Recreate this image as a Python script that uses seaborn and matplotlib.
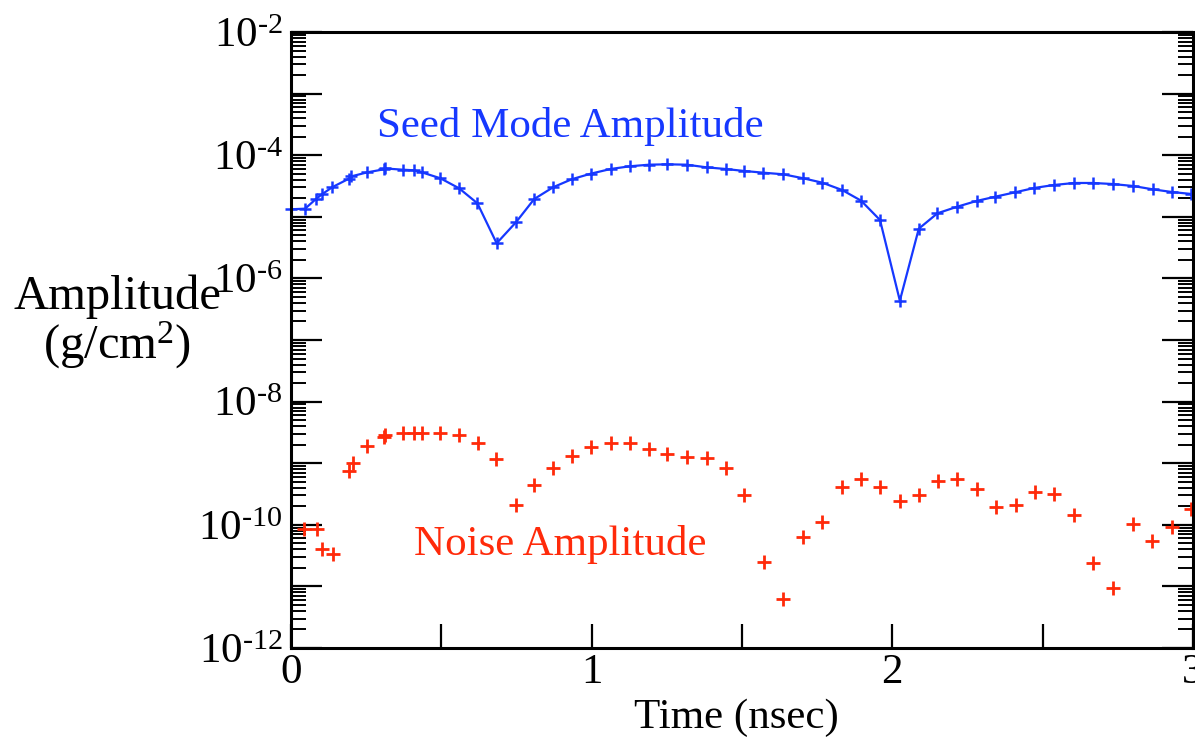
import numpy as np
import pandas as pd
import seaborn as sns
import matplotlib
matplotlib.use("Agg")
import matplotlib.pyplot as plt
from matplotlib.ticker import LogLocator, FuncFormatter, NullFormatter, MultipleLocator

# Seed mode amplitude (log10 of g/cm^2)
seed_t = [0.0, 0.047, 0.083, 0.103, 0.137, 0.193, 0.201, 0.254, 0.309, 0.312, 0.371, 0.409,
          0.435, 0.497, 0.559, 0.620, 0.684, 0.748, 0.809, 0.872, 0.934, 0.997, 1.063,
          1.127, 1.191, 1.252, 1.316, 1.382, 1.446, 1.507, 1.571, 1.637, 1.704, 1.767,
          1.833, 1.896, 1.959, 2.025, 2.088, 2.150, 2.216, 2.280, 2.343, 2.408, 2.472,
          2.537, 2.605, 2.668, 2.733, 2.801, 2.866, 2.929, 2.995]
seed_log = [-4.878, -4.868, -4.711, -4.635, -4.52, -4.38, -4.343, -4.278, -4.229, -4.215,
            -4.235, -4.245, -4.278, -4.375, -4.537, -4.781, -5.43, -5.09, -4.711, -4.52,
            -4.39, -4.30, -4.224, -4.18, -4.154, -4.148, -4.154, -4.197, -4.224, -4.256,
            -4.284, -4.31, -4.375, -4.446, -4.565, -4.738, -5.052, -6.362, -5.193, -4.943,
            -4.836, -4.743, -4.673, -4.603, -4.532, -4.484, -4.451, -4.451, -4.468, -4.5,
            -4.554, -4.597, -4.63]

# Noise amplitude (log10 of g/cm^2)
noise_t = [0.043, 0.088, 0.103, 0.139, 0.193, 0.205, 0.252, 0.310, 0.312, 0.372, 0.409,
           0.435, 0.497, 0.559, 0.621, 0.683, 0.747, 0.808, 0.872, 0.935, 0.998, 1.063,
           1.127, 1.191, 1.252, 1.316, 1.382, 1.446, 1.507, 1.572, 1.636, 1.702, 1.765,
           1.831, 1.896, 1.959, 2.025, 2.088, 2.153, 2.216, 2.280, 2.345, 2.411, 2.474,
           2.538, 2.605, 2.669, 2.734, 2.799, 2.864, 2.929, 2.995]
noise_log = [-10.063, -10.068, -10.39, -10.48, -9.127, -9.0, -8.716, -8.58, -8.547, -8.515,
             -8.505, -8.505, -8.51, -8.547, -8.667, -8.927, -9.673, -9.354, -9.07, -8.878,
             -8.73, -8.667, -8.677, -8.764, -8.85, -8.894, -8.915, -9.07, -9.516, -10.604,
             -11.21, -10.19, -9.955, -9.38, -9.26, -9.38, -9.61, -9.516, -9.294, -9.26,
             -9.42, -9.705, -9.68, -9.47, -9.495, -9.835, -10.615, -11.02, -9.98, -10.258,
             -10.03, -9.74]

seed = pd.DataFrame({"t": seed_t, "amp": 10.0 ** np.array(seed_log)})
noise = pd.DataFrame({"t": noise_t, "amp": 10.0 ** np.array(noise_log)})

sns.set_theme(style="ticks")
plt.rcParams["font.family"] = ["Liberation Serif", "DejaVu Serif"]
plt.rcParams["mathtext.fontset"] = "custom"
plt.rcParams["mathtext.rm"] = "Liberation Serif"
plt.rcParams["text.color"] = "black"
plt.rcParams["xtick.color"] = "black"
plt.rcParams["ytick.color"] = "black"
plt.rcParams["xtick.labelcolor"] = "black"
plt.rcParams["ytick.labelcolor"] = "black"

BLUE = "#1638ff"
RED = "#ff2a0a"
FS = 31

fig = plt.figure(figsize=(11.95, 7.44), dpi=100)
ax = fig.add_axes([291 / 1195, 1 - 648 / 744, (1193 - 291) / 1195, (648 - 32) / 744])

sns.lineplot(data=seed, x="t", y="amp", ax=ax, color=BLUE, lw=1.6, marker="+",
             markersize=9, markeredgewidth=1.8, markeredgecolor=BLUE, clip_on=False)
sns.scatterplot(data=noise, x="t", y="amp", ax=ax, color=RED, marker="+", s=90,
                linewidth=2.0, clip_on=False)

ax.set_yscale("log")
ax.set_xlim(0, 3)
ax.set_ylim(1e-12, 1e-2)

ax.yaxis.set_major_locator(LogLocator(base=10, numticks=30))
ax.yaxis.set_minor_locator(LogLocator(base=10, subs=np.arange(2, 10), numticks=30))


def fmt(v, pos):
    e = int(round(np.log10(v)))
    if e % 2 == 0:
        return r"$\mathregular{10^{\text{-}%d}}$" % abs(e)
    return ""


ax.yaxis.set_major_formatter(FuncFormatter(fmt))
ax.yaxis.set_minor_formatter(NullFormatter())
ax.xaxis.set_major_locator(MultipleLocator(0.5))
ax.xaxis.set_major_formatter(FuncFormatter(lambda v, p: "%d" % v if abs(v - round(v)) < 1e-6 else ""))

ax.tick_params(axis="y", which="major", direction="in", length=22, width=1.6,
               left=True, right=True, labelsize=FS, pad=6)
ax.tick_params(axis="y", which="minor", direction="in", length=11, width=1.4,
               left=True, right=True)
ax.tick_params(axis="x", which="major", direction="in", length=17, width=1.6,
               bottom=True, top=False, labelsize=FS, pad=4)
for s in ax.spines.values():
    s.set_visible(True)
    s.set_linewidth(2.2)
    s.set_color("black")

ax.set_xlabel("")
ax.set_ylabel("")
fig.text(736 / 1195, 1 - 718 / 744, "Time (nsec)", ha="center", va="center", fontsize=FS)
fig.text(117 / 1195, 1 - 323 / 744, "Amplitude\n" + r"(g/cm$\mathregular{^2}$)",
         ha="center", va="center", fontsize=35, linespacing=1.0)

ax.text(570 / 1195, 1 - 127 / 744, "Seed Mode Amplitude", transform=fig.transFigure,
        ha="center", va="center", fontsize=FS, color=BLUE)
ax.text(560 / 1195, 1 - 545 / 744, "Noise Amplitude", transform=fig.transFigure,
        ha="center", va="center", fontsize=FS, color=RED)

leg = ax.get_legend()
if leg is not None:
    leg.remove()

fig.savefig("out.png", dpi=100)
